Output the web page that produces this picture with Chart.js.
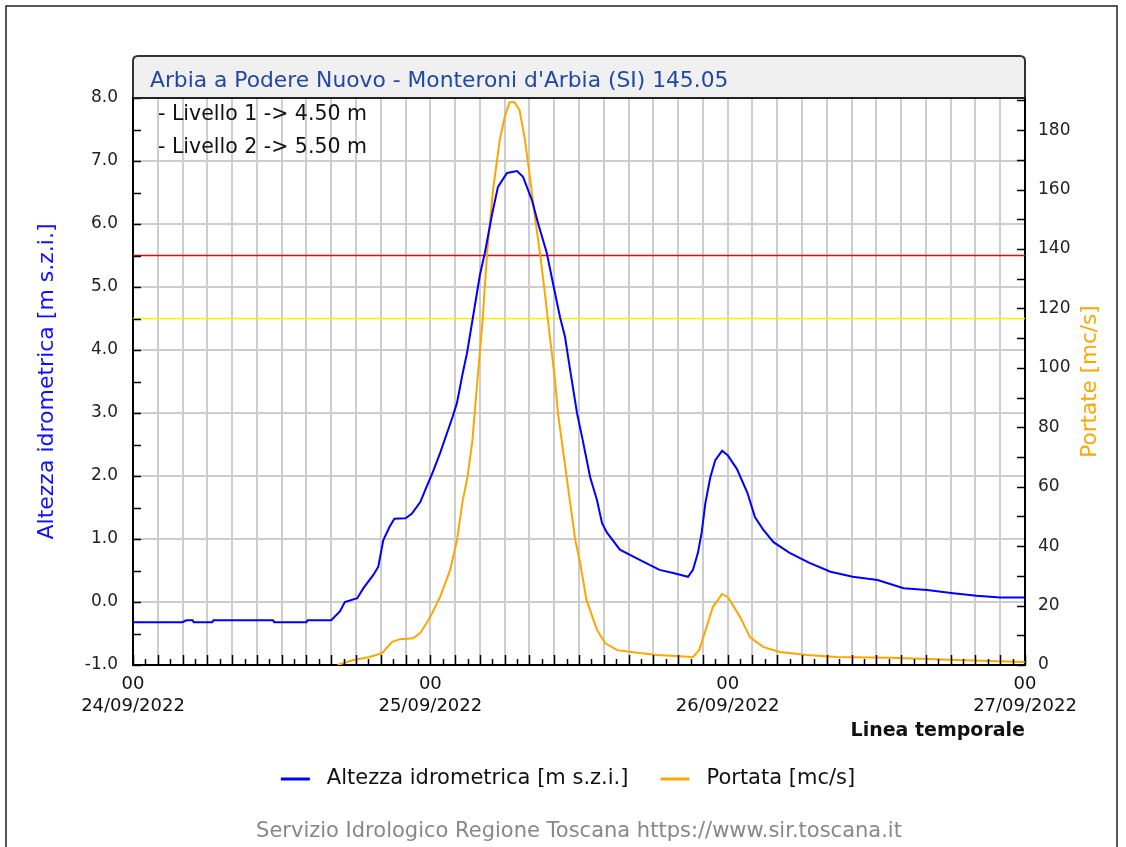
<!DOCTYPE html>
<html><head><meta charset="utf-8">
<script src="https://cdn.jsdelivr.net/npm/chart.js@4/dist/chart.umd.min.js"></script>
<style>html,body{margin:0;padding:0;background:#fff}#wrap{position:relative;width:1126px;height:847px}canvas{display:block}</style>
</head><body><div id="wrap"><canvas id="c" width="1126" height="847"></canvas></div>
<script>
const chartTitle = "Arbia a Podere Nuovo - Monteroni d'Arbia (SI) 145.05";
const footerText = "Servizio Idrologico Regione Toscana https://www.sir.toscana.it";
const dateLabels = ['24/09/2022', '25/09/2022', '26/09/2022', '27/09/2022'];
const hourLabel = '00';
const levelLabel = 'Altezza idrometrica [m s.z.i.]';
const flowLabel = 'Portata [mc/s]';
const flowAxisLabel = 'Portate [mc/s]';
const xAxisLabel = 'Linea temporale';
const thresholdNames = ['Livello 1', 'Livello 2'];
const thresholdValues = [4.5, 5.5];
const thresholdColors = ['#f5f500', '#ff0000'];

// hours since 24/09/2022 00:00
const levelHours = [0, 4.0, 4.3, 4.8, 4.9, 6.4, 6.5, 11.3, 11.4, 12.0, 14.0, 14.1, 16.0, 16.7, 17.1, 18.1, 18.6, 19.4, 19.8, 20.2, 20.7, 21.1, 22.0, 22.5, 23.2, 23.7, 24.2, 24.8, 25.8, 26.15, 26.6, 26.96, 27.44, 28.0, 28.4, 29.0, 29.46, 30.19, 31.0, 31.48, 32.2, 32.7, 33.4, 33.9, 34.47, 34.87, 35.27, 35.84, 36.3, 36.9, 37.45, 37.86, 38.26, 39.3, 40.9, 42.5, 43.6, 44.8, 45.2, 45.6, 45.9, 46.2, 46.6, 47.0, 47.55, 48.0, 48.75, 49.6, 50.2, 50.9, 51.7, 53.0, 54.6, 56.3, 58.1, 60.1, 62.2, 64.1, 66.2, 68.1, 70.0, 72.0];
const levelValues = [-0.32, -0.32, -0.29, -0.29, -0.32, -0.32, -0.29, -0.29, -0.32, -0.32, -0.32, -0.29, -0.29, -0.15, 0.0, 0.06, 0.22, 0.43, 0.56, 0.98, 1.19, 1.32, 1.33, 1.40, 1.59, 1.83, 2.06, 2.37, 2.94, 3.16, 3.62, 3.95, 4.52, 5.19, 5.54, 6.17, 6.59, 6.81, 6.84, 6.75, 6.38, 6.01, 5.54, 5.06, 4.52, 4.21, 3.70, 3.00, 2.57, 1.98, 1.62, 1.25, 1.10, 0.83, 0.67, 0.51, 0.46, 0.40, 0.51, 0.78, 1.10, 1.57, 1.98, 2.25, 2.40, 2.33, 2.11, 1.73, 1.35, 1.14, 0.95, 0.78, 0.62, 0.48, 0.40, 0.35, 0.22, 0.19, 0.14, 0.10, 0.07, 0.07];

const flowHours = [16.5, 17.8, 19.1, 20.1, 20.9, 21.55, 22.6, 23.2, 24.0, 24.8, 25.6, 26.15, 26.6, 27.0, 27.4, 27.8, 28.2, 28.6, 29.06, 29.6, 30.0, 30.4, 30.8, 31.2, 31.6, 32.0, 32.4, 32.85, 33.25, 33.66, 34.06, 34.3, 35.0, 35.7, 36.1, 36.6, 37.45, 38.1, 39.07, 40.9, 42.3, 45.2, 45.7, 46.3, 46.8, 47.55, 48.0, 49.0, 49.8, 50.85, 52.2, 54.4, 56.8, 61.1, 66.5, 72.0];
const flowValues = [0, 1.7, 2.7, 4.0, 7.7, 8.7, 9.0, 10.8, 16.2, 23.0, 32.0, 42.0, 55.0, 63.3, 75.7, 95.9, 115.0, 139.6, 159.8, 176.6, 184.4, 189.4, 189.4, 186.7, 177.7, 165.5, 152.0, 138.6, 125.0, 110.0, 96.0, 84.8, 63.3, 42.0, 34.3, 21.9, 11.8, 7.4, 5.0, 4.0, 3.4, 2.7, 5.0, 12.8, 19.5, 23.9, 22.9, 16.2, 9.4, 6.1, 4.4, 3.4, 2.7, 2.4, 1.7, 1.0];

const levelMin = -1, levelMax = 8, flowMin = 0, flowMax = 190.8;

const FONT = "'DejaVu Sans', Verdana, sans-serif";

const decor = {
  id: 'decor',
  beforeDraw(chart) {
    const c = chart.ctx, a = chart.chartArea;
    c.save();
    c.fillStyle = '#fff';
    c.fillRect(0, 0, chart.width, chart.height);
    // outer frame
    c.strokeStyle = '#222'; c.lineWidth = 1.5;
    c.beginPath();
    c.moveTo(6, 847); c.lineTo(6, 6); c.lineTo(1117, 6); c.lineTo(1117, 847);
    c.stroke();
    // title box
    const top = 56, r = 5;
    c.beginPath();
    c.moveTo(a.left, a.top);
    c.lineTo(a.left, top + r);
    c.quadraticCurveTo(a.left, top, a.left + r, top);
    c.lineTo(a.right - r, top);
    c.quadraticCurveTo(a.right, top, a.right, top + r);
    c.lineTo(a.right, a.top);
    c.closePath();
    c.fillStyle = '#f0f0f0'; c.fill();
    c.strokeStyle = '#333'; c.lineWidth = 2; c.stroke();
    c.fillStyle = '#2048a8';
    c.font = '21.8px ' + FONT;
    c.textBaseline = 'middle'; c.textAlign = 'left';
    c.fillText(chartTitle, a.left + 17, 81);
    c.restore();
  },
  beforeDatasetsDraw(chart) {
    const c = chart.ctx, a = chart.chartArea, y = chart.scales.y;
    c.save();
    c.lineWidth = 1.5;
    thresholdValues.forEach((v, i) => {
      const py = y.getPixelForValue(v);
      c.strokeStyle = thresholdColors[i];
      c.beginPath(); c.moveTo(a.left, py); c.lineTo(a.right, py); c.stroke();
    });
    c.restore();
  },
  afterDraw(chart) {
    const c = chart.ctx, a = chart.chartArea;
    const x = chart.scales.x, y = chart.scales.y, y1 = chart.scales.y1;
    c.save();
    c.strokeStyle = '#000'; c.lineWidth = 1.5;
    c.beginPath();
    for (let v = levelMin; v <= levelMax + 1e-9; v += 0.5) {
      const py = Math.round(y.getPixelForValue(v)) + 0.5;
      c.moveTo(a.left, py); c.lineTo(a.left + 8, py);
    }
    for (let v = flowMin; v <= 190; v += 10) {
      const py = Math.round(y1.getPixelForValue(v)) + 0.5;
      c.moveTo(a.right, py); c.lineTo(a.right - 8, py);
    }
    for (let h = 0; h <= 72; h++) {
      const px = Math.round(x.getPixelForValue(h)) + 0.5;
      c.moveTo(px, a.bottom); c.lineTo(px, a.bottom - (h % 2 === 0 ? 10 : 6));
    }
    c.stroke();
    // top border of plot
    c.strokeStyle = '#222'; c.lineWidth = 2;
    c.beginPath(); c.moveTo(a.left, a.top); c.lineTo(a.right, a.top); c.stroke();
    // threshold notes
    c.fillStyle = '#111'; c.font = '20.5px ' + FONT;
    c.textBaseline = 'middle'; c.textAlign = 'left';
    thresholdNames.forEach((n, i) => {
      c.fillText('- ' + n + ' -> ' + thresholdValues[i].toFixed(2) + ' m', a.left + 25, 115 + i * 33);
    });
    // right axis title (reads bottom to top)
    c.save();
    c.translate(1090, (a.top + a.bottom) / 2);
    c.rotate(-Math.PI / 2);
    c.fillStyle = '#ffa500'; c.font = '21.5px ' + FONT; c.textAlign = 'center';
    c.fillText(flowAxisLabel, 0, 0);
    c.restore();
    // legend
    c.font = '21px ' + FONT;
    const ds = chart.data.datasets;
    const sample = 29, gap = 17, sep = 32;
    let total = 0;
    ds.forEach((d, i) => { total += sample + gap + c.measureText(d.label).width + (i ? sep : 0); });
    let lx = 568 - total / 2;
    const ly = 779;
    ds.forEach((d, i) => {
      if (i) lx += sep;
      c.strokeStyle = d.borderColor; c.lineWidth = 3;
      c.beginPath(); c.moveTo(lx, ly); c.lineTo(lx + sample, ly); c.stroke();
      lx += sample + gap;
      c.fillStyle = '#111'; c.fillText(d.label, lx, ly);
      lx += c.measureText(d.label).width;
    });
    // footer
    c.fillStyle = '#888'; c.font = '21px ' + FONT; c.textAlign = 'center';
    c.fillText(footerText, (a.left + a.right) / 2, 832);
    c.restore();
  }
};

new Chart(document.getElementById('c'), {
  type: 'line',
  data: {
    datasets: [
      {
        label: levelLabel,
        data: levelHours.map((h, i) => ({ x: h, y: levelValues[i] })),
        borderColor: '#0000ff', backgroundColor: '#0000ff',
        borderWidth: 2, pointRadius: 0, tension: 0, yAxisID: 'y'
      },
      {
        label: flowLabel,
        data: flowHours.map((h, i) => ({ x: h, y: flowValues[i] })),
        borderColor: '#ffa500', backgroundColor: '#ffa500',
        borderWidth: 2, pointRadius: 0, tension: 0, yAxisID: 'y1'
      }
    ]
  },
  options: {
    responsive: false,
    animation: false,
    devicePixelRatio: 1,
    layout: { padding: { left: 28, right: 19, top: 98, bottom: 100 } },
    plugins: { legend: { display: false }, title: { display: false }, tooltip: { enabled: false } },
    scales: {
      x: {
        type: 'linear', min: 0, max: 72,
        afterFit: s => { s.height = 82; },
        ticks: {
          stepSize: 2, autoSkip: false, maxRotation: 0, padding: 8,
          color: '#111', font: { family: FONT, size: 18, lineHeight: 1.22 },
          callback: v => (v % 24 === 0 ? [hourLabel, dateLabels[v / 24]] : '')
        },
        grid: { color: '#cdcdcd', lineWidth: 2, drawTicks: false },
        border: { color: '#000', width: 2 },
        title: { display: true, text: xAxisLabel, align: 'end', color: '#111',
          font: { family: FONT, size: 19, weight: 'bold' }, padding: { top: 0, bottom: 5 } }
      },
      y: {
        position: 'left', min: levelMin, max: levelMax,
        afterFit: s => { s.width = 105; },
        ticks: {
          stepSize: 0.5, padding: 15, color: '#222', font: { family: FONT, size: 17 },
          callback: v => (Number.isInteger(v) ? v.toFixed(1) : '')
        },
        grid: { color: c => (Number.isInteger(c.tick.value) ? '#cdcdcd' : 'rgba(0,0,0,0)'), lineWidth: 2, drawTicks: false },
        border: { color: '#000', width: 2 },
        title: { display: true, text: levelLabel, color: '#1010ff', font: { family: FONT, size: 22 }, padding: { top: 6, bottom: 0 } }
      },
      y1: {
        position: 'right', min: flowMin, max: flowMax,
        afterFit: s => { s.width = 82; },
        ticks: {
          stepSize: 10, padding: 13, color: '#222', font: { family: FONT, size: 17 },
          callback: v => (v % 20 === 0 && v <= 180 ? String(v) : '')
        },
        grid: { display: true, drawOnChartArea: false, drawTicks: false },
        border: { color: '#000', width: 2 },
        title: { display: false }
      }
    }
  },
  plugins: [decor]
});
</script>
</body></html>
